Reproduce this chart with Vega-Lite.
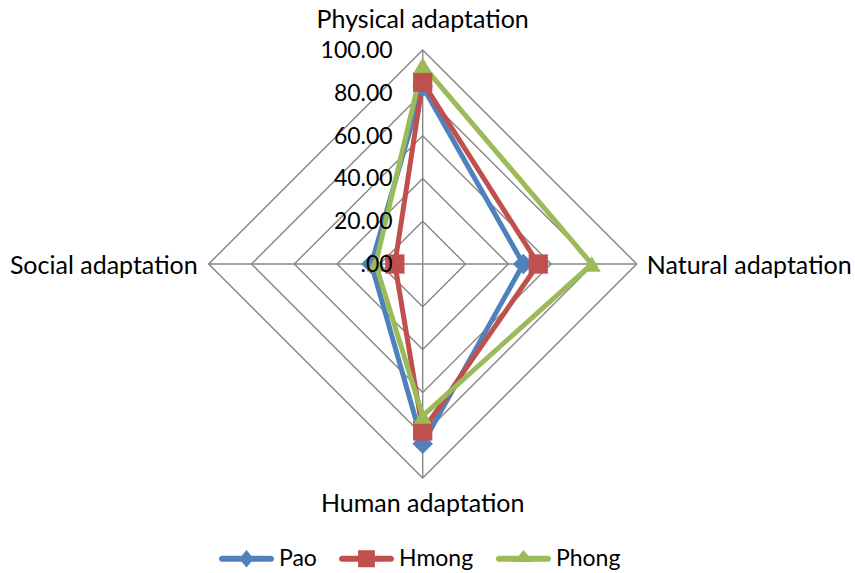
{
  "$schema": "https://vega.github.io/schema/vega-lite/v6.json",
  "width": 855,
  "height": 573,
  "autosize": {"type": "none"},
  "padding": 0,
  "background": "white",
  "config": {"view": {"stroke": null}, "font": "Lato"},
  "resolve": {"scale": {"shape": "independent", "color": "independent", "size": "independent"}},
  "datasets": {
    "scores": [
      {"series": "Pao", "axis": "Physical adaptation", "idx": 0, "value": 83},
      {"series": "Pao", "axis": "Natural adaptation", "idx": 1, "value": 47},
      {"series": "Pao", "axis": "Human adaptation", "idx": 2, "value": 84},
      {"series": "Pao", "axis": "Social adaptation", "idx": 3, "value": 24},
      {"series": "Hmong", "axis": "Physical adaptation", "idx": 0, "value": 85},
      {"series": "Hmong", "axis": "Natural adaptation", "idx": 1, "value": 54},
      {"series": "Hmong", "axis": "Human adaptation", "idx": 2, "value": 78},
      {"series": "Hmong", "axis": "Social adaptation", "idx": 3, "value": 13},
      {"series": "Phong", "axis": "Physical adaptation", "idx": 0, "value": 93},
      {"series": "Phong", "axis": "Natural adaptation", "idx": 1, "value": 79},
      {"series": "Phong", "axis": "Human adaptation", "idx": 2, "value": 71},
      {"series": "Phong", "axis": "Social adaptation", "idx": 3, "value": 22}
    ],
    "grid": [
      {"level": 20, "idx": 0}, {"level": 20, "idx": 1}, {"level": 20, "idx": 2}, {"level": 20, "idx": 3},
      {"level": 40, "idx": 0}, {"level": 40, "idx": 1}, {"level": 40, "idx": 2}, {"level": 40, "idx": 3},
      {"level": 60, "idx": 0}, {"level": 60, "idx": 1}, {"level": 60, "idx": 2}, {"level": 60, "idx": 3},
      {"level": 80, "idx": 0}, {"level": 80, "idx": 1}, {"level": 80, "idx": 2}, {"level": 80, "idx": 3},
      {"level": 100, "idx": 0}, {"level": 100, "idx": 1}, {"level": 100, "idx": 2}, {"level": 100, "idx": 3}
    ],
    "levels": [
      {"level": 0, "label": ".00"},
      {"level": 20, "label": "20.00"},
      {"level": 40, "label": "40.00"},
      {"level": 60, "label": "60.00"},
      {"level": 80, "label": "80.00"},
      {"level": 100, "label": "100.00"}
    ],
    "axes": [
      {"axis": "Physical adaptation", "idx": 0, "level": 100},
      {"axis": "Natural adaptation", "idx": 1, "level": 100},
      {"axis": "Human adaptation", "idx": 2, "level": 100},
      {"axis": "Social adaptation", "idx": 3, "level": 100}
    ]
  },
  "encoding": {
    "x": {"field": "x", "type": "quantitative", "scale": {"domain": [-197.5, 202], "nice": false, "zero": false}, "axis": null},
    "y": {"field": "y", "type": "quantitative", "scale": {"domain": [-144.4, 123.4], "nice": false, "zero": false}, "axis": null}
  },
  "layer": [
    {
      "data": {"name": "grid"},
      "transform": [
        {"calculate": "datum.idx * PI / 2", "as": "a"},
        {"calculate": "datum.level * sin(datum.a)", "as": "x"},
        {"calculate": "datum.level * cos(datum.a)", "as": "y"}
      ],
      "mark": {"type": "line", "interpolate": "linear-closed", "color": "#868686", "strokeWidth": 1.4},
      "encoding": {"detail": {"field": "level"}, "order": {"field": "idx"}}
    },
    {
      "data": {"name": "axes"},
      "transform": [
        {"calculate": "datum.idx * PI / 2", "as": "a"},
        {"calculate": "datum.level * sin(datum.a)", "as": "x"},
        {"calculate": "datum.level * cos(datum.a)", "as": "y"}
      ],
      "mark": {"type": "rule", "color": "#868686", "strokeWidth": 1.4},
      "encoding": {"x2": {"datum": 0}, "y2": {"datum": 0}}
    },
    {
      "data": {"name": "scores"},
      "transform": [
        {"calculate": "datum.idx * PI / 2", "as": "a"},
        {"calculate": "datum.value * sin(datum.a)", "as": "x"},
        {"calculate": "datum.value * cos(datum.a)", "as": "y"}
      ],
      "mark": {"type": "line", "interpolate": "linear-closed", "strokeWidth": 5, "strokeJoin": "round"},
      "encoding": {
        "color": {"field": "series", "type": "nominal", "scale": {"domain": ["Pao", "Hmong", "Phong"], "range": ["#4F81BD", "#C0504D", "#9BBB59"]}, "legend": null},
        "order": {"field": "idx"}
      }
    },
    {
      "data": {"name": "scores"},
      "transform": [
        {"calculate": "datum.idx * PI / 2", "as": "a"},
        {"calculate": "datum.value * sin(datum.a)", "as": "x"},
        {"calculate": "datum.value * cos(datum.a)", "as": "y"}
      ],
      "mark": {"type": "point", "filled": true, "opacity": 1},
      "encoding": {
        "color": {"field": "series", "type": "nominal", "scale": {"domain": ["Pao", "Hmong", "Phong"], "range": ["#4F81BD", "#C0504D", "#9BBB59"]}, "legend": null},
        "shape": {"field": "series", "type": "nominal", "scale": {"domain": ["Pao", "Hmong", "Phong"], "range": ["diamond", "square", "triangle-up"]}, "legend": null},
        "size": {"field": "series", "type": "nominal", "scale": {"domain": ["Pao", "Hmong", "Phong"], "range": [420, 324, 480]}, "legend": null}
      }
    },
    {
      "data": {"name": "scores"},
      "transform": [
        {"filter": "false"},
        {"calculate": "0", "as": "x"},
        {"calculate": "0", "as": "y"}
      ],
      "mark": {"type": "point", "filled": true, "opacity": 1},
      "encoding": {
        "color": {
          "field": "series", "type": "nominal",
          "scale": {"domain": ["Pao", "Hmong", "Phong"], "range": ["#4F81BD", "#C0504D", "#9BBB59"]},
          "legend": {
            "orient": "none", "legendX": 235, "legendY": 547, "direction": "horizontal",
            "title": null, "padding": 0,
            "labelFont": "Lato", "labelFontSize": 23, "labelColor": "#000000",
            "symbolSize": 196, "labelOffset": 21, "columnPadding": 21, "symbolStrokeWidth": 0, "symbolOpacity": 1
          }
        },
        "shape": {
          "field": "series", "type": "nominal",
          "scale": {"domain": ["Pao", "Hmong", "Phong"], "range": [
            "M-3.5,-0.43H3.5A0.43,0.43 0 0 1 3.5,0.43H-3.5A0.43,0.43 0 0 1 -3.5,-0.43Z M0,-1.25L1.05,0L0,1.25L-1.05,0Z",
            "M-3.5,-0.43H3.5A0.43,0.43 0 0 1 3.5,0.43H-3.5A0.43,0.43 0 0 1 -3.5,-0.43Z M-1.2,-1.2H1.2V1.2H-1.2Z",
            "M-3.5,-0.43H3.5A0.43,0.43 0 0 1 3.5,0.43H-3.5A0.43,0.43 0 0 1 -3.5,-0.43Z M0,-1.25L1.45,0.45H-1.45Z"
          ]},
          "legend": {
            "orient": "none", "legendX": 235, "legendY": 547, "direction": "horizontal",
            "title": null, "padding": 0,
            "labelFont": "Lato", "labelFontSize": 23, "labelColor": "#000000",
            "symbolSize": 196, "labelOffset": 21, "columnPadding": 21, "symbolStrokeWidth": 0, "symbolOpacity": 1
          }
        }
      }
    },
    {
      "data": {"name": "levels"},
      "transform": [
        {"calculate": "0", "as": "x"},
        {"calculate": "datum.level", "as": "y"}
      ],
      "mark": {"type": "text", "align": "right", "baseline": "middle", "dx": -30, "dy": 1, "fontSize": 23, "font": "Lato", "color": "#000000"},
      "encoding": {"text": {"field": "label"}}
    },
    {
      "data": {"name": "axes"},
      "transform": [
        {"filter": "datum.idx === 0"},
        {"calculate": "0", "as": "x"},
        {"calculate": "datum.level", "as": "y"}
      ],
      "mark": {"type": "text", "align": "center", "baseline": "alphabetic", "dy": -22, "fontSize": 25, "font": "Lato", "color": "#000000"},
      "encoding": {"text": {"field": "axis"}}
    },
    {
      "data": {"name": "axes"},
      "transform": [
        {"filter": "datum.idx === 1"},
        {"calculate": "datum.level", "as": "x"},
        {"calculate": "0", "as": "y"}
      ],
      "mark": {"type": "text", "align": "left", "baseline": "middle", "dx": 10, "dy": 2, "fontSize": 25, "font": "Lato", "color": "#000000"},
      "encoding": {"text": {"field": "axis"}}
    },
    {
      "data": {"name": "axes"},
      "transform": [
        {"filter": "datum.idx === 2"},
        {"calculate": "0", "as": "x"},
        {"calculate": "-datum.level", "as": "y"}
      ],
      "mark": {"type": "text", "align": "center", "baseline": "alphabetic", "dy": 34, "fontSize": 25, "font": "Lato", "color": "#000000"},
      "encoding": {"text": {"field": "axis"}}
    },
    {
      "data": {"name": "axes"},
      "transform": [
        {"filter": "datum.idx === 3"},
        {"calculate": "-datum.level", "as": "x"},
        {"calculate": "0", "as": "y"}
      ],
      "mark": {"type": "text", "align": "right", "baseline": "middle", "dx": -11, "dy": 2, "fontSize": 25, "font": "Lato", "color": "#000000"},
      "encoding": {"text": {"field": "axis"}}
    }
  ]
}
